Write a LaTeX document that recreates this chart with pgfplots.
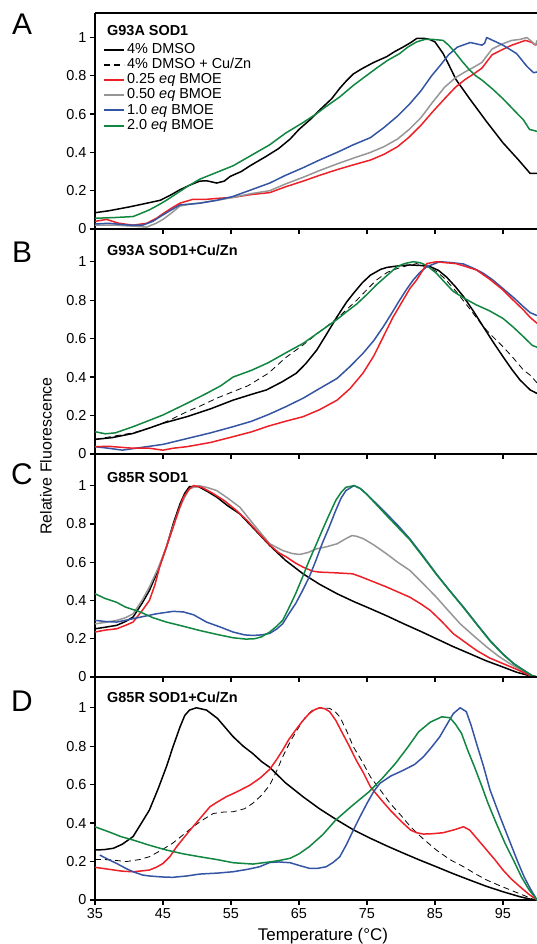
\documentclass[border=0pt]{standalone}
\usepackage{fontspec}
\setmainfont{Liberation Sans}
\usepackage{pgfplots}
\pgfplotsset{compat=1.18}
\definecolor{cred}{RGB}{236,32,39}
\definecolor{cgray}{RGB}{150,150,150}
\definecolor{cblue}{RGB}{52,84,164}
\definecolor{cgreen}{RGB}{16,134,64}
\pgfplotsset{
  panel/.style={
    scale only axis, width=442bp, xmin=35, xmax=100, ymin=0,
    anchor=north west,
    axis x line=box, axis y line=left,
    axis line style={-, line width=1.6bp},
    xtick={35,45,55,65,75,85,95}, ytick={0,0.2,0.4,0.6,0.8,1},
    xtick pos=bottom, ytick pos=left,
    tick align=outside, major tick length=5bp,
    every tick/.style={black, line width=1.3bp},
    tick label style={font=\fontsize{14.5}{15}\selectfont},
    /pgf/number format/assume math mode=true,
    every axis plot/.append style={line width=1.5bp, line join=round},
  },
}
\begin{document}
\begin{tikzpicture}
% ---------------- A ----------------
\begin{axis}[panel, at={(0bp,0bp)}, height=216bp, ymax=1.128, xticklabels={},
  legend cell align=left,
  legend image code/.code={\draw[#1, line width=1.9bp] (0bp,0bp) -- (20bp,0bp);},
  legend style={draw=none, fill=none, inner sep=0pt, at={(axis description cs:0.0181,0.8625)}, anchor=north west,
    font=\fontsize{14.5}{15}\selectfont, row sep=1.7bp, column sep=2bp,
    nodes={inner sep=0pt, text height=10.5bp, text depth=3bp}}]
\addplot[black] coordinates {(35,0.085)(37,0.095)(40,0.115)(42,0.13)(44.6,0.15)(46,0.175)(47.5,0.205)(49,0.23)(50.4,0.25)(51.4,0.252)(52.9,0.24)(54,0.25)(54.9,0.275)(56.5,0.30)(57.8,0.33)(60.2,0.38)(62,0.42)(63.7,0.47)(65,0.52)(66.6,0.57)(68,0.62)(69.8,0.68)(71,0.735)(72,0.775)(73,0.81)(74.4,0.84)(76,0.87)(77.9,0.90)(79,0.925)(80.3,0.95)(81.5,0.975)(82.3,0.995)(83.5,0.995)(84.2,0.99)(85,0.977)(86.2,0.916)(87,0.86)(88.1,0.78)(90.1,0.68)(92.6,0.56)(95,0.45)(97.3,0.36)(99,0.29)(100,0.29)};
\addlegendentry{4\% DMSO}
\addlegendimage{black, dash pattern=on 6bp off 4bp}
\addlegendentry{4\% DMSO + Cu/Zn}
\addplot[cred] coordinates {(35,0.04)(36.7,0.05)(38.5,0.03)(40.6,0.02)(42.6,0.03)(44,0.055)(45,0.08)(46.3,0.11)(47.5,0.135)(49.4,0.155)(51.4,0.155)(53,0.16)(55.3,0.165)(58,0.18)(60.7,0.19)(63,0.22)(65.6,0.25)(68,0.28)(70.6,0.31)(73,0.335)(75.5,0.36)(77.5,0.39)(79.5,0.43)(81.2,0.48)(82.9,0.54)(84.6,0.61)(86.4,0.68)(88,0.74)(89.4,0.78)(90.7,0.81)(91.9,0.84)(93.4,0.91)(94.8,0.935)(96.3,0.96)(97.5,0.975)(98.3,0.985)(99.2,0.975)(99.8,0.96)(100,0.97)};
\addlegendentry{0.25 \textit{eq} BMOE}
\addplot[cgray] coordinates {(35,0.02)(38,0.02)(40.6,0.015)(42.6,0.01)(44,0.03)(45,0.05)(46.3,0.085)(47.5,0.12)(49,0.13)(50.4,0.135)(53,0.15)(55.3,0.165)(58,0.185)(60.7,0.2)(63,0.235)(65.6,0.27)(68,0.305)(70.6,0.34)(73,0.37)(75.5,0.40)(77.5,0.43)(79.5,0.47)(81.2,0.52)(82.9,0.58)(84.6,0.66)(86.4,0.74)(88,0.79)(89.4,0.82)(90.7,0.845)(91.9,0.87)(93.4,0.94)(94.8,0.965)(96.3,0.985)(97.5,0.99)(98.5,1.0)(99.2,0.98)(99.8,0.96)(100,0.985)};
\addlegendentry{0.50 \textit{eq} BMOE}
\addplot[cblue] coordinates {(35,0.026)(37,0.03)(40,0.02)(42,0.02)(43.5,0.04)(44.6,0.065)(46,0.095)(47.5,0.126)(49,0.13)(50.4,0.135)(52.9,0.15)(55.3,0.17)(58,0.205)(60.7,0.24)(63,0.28)(65.6,0.32)(68,0.36)(70.6,0.40)(73,0.44)(75.5,0.477)(77.5,0.53)(79.5,0.59)(81.2,0.65)(82.9,0.72)(84.5,0.80)(85.9,0.86)(87,0.91)(88.3,0.95)(90.2,0.974)(91.9,0.96)(92.3,0.97)(92.6,1.0)(93.5,0.985)(95,0.96)(97,0.916)(98.5,0.85)(99.5,0.816)(100,0.82)};
\addlegendentry{1.0 \textit{eq} BMOE}
\addplot[cgreen] coordinates {(35,0.056)(38,0.06)(40.6,0.065)(42,0.085)(43,0.10)(44.3,0.125)(45.5,0.15)(47,0.185)(48.5,0.22)(50.4,0.26)(52.5,0.29)(55.3,0.33)(58,0.385)(60.7,0.44)(63,0.50)(65.6,0.556)(67.5,0.60)(69,0.64)(71,0.69)(73,0.75)(74.5,0.79)(76.4,0.84)(78,0.88)(79.8,0.916)(81,0.95)(82.3,0.977)(83.5,0.99)(84.7,0.99)(86.2,0.985)(87,0.96)(87.9,0.925)(89,0.875)(90.1,0.83)(91,0.80)(92,0.775)(93.5,0.73)(95,0.68)(96.9,0.61)(98,0.57)(98.9,0.52)(100,0.51)};
\addlegendentry{2.0 \textit{eq} BMOE}
\end{axis}
% ---------------- B ----------------
\begin{axis}[panel, at={(0bp,-216bp)}, height=225bp, ymax=1.17, xticklabels={}]
\addplot[black] coordinates {(35,0.076)(37.5,0.085)(40.6,0.107)(43,0.135)(45,0.16)(48.5,0.194)(52,0.235)(55.3,0.28)(58,0.31)(60.2,0.333)(62.5,0.375)(64.6,0.42)(66,0.47)(67.6,0.54)(69,0.62)(70.6,0.714)(72,0.79)(73,0.835)(74.3,0.89)(75.5,0.93)(77,0.96)(77.9,0.97)(79.5,0.978)(81.3,0.983)(83,0.98)(84.3,0.974)(85.5,0.955)(86.7,0.92)(88,0.87)(89.2,0.818)(90.7,0.74)(92.1,0.662)(93.5,0.585)(95,0.506)(96.3,0.44)(97.5,0.385)(99,0.333)(100,0.315)};
\addplot[black, line width=0.8bp, dash pattern=on 6bp off 4bp] coordinates {(35,0.076)(40.6,0.11)(43,0.135)(44.6,0.155)(46.5,0.185)(48.5,0.22)(50.5,0.25)(52.9,0.29)(55,0.32)(57.5,0.355)(60.5,0.42)(63,0.50)(65.6,0.567)(68,0.635)(70.6,0.705)(73.5,0.80)(75,0.855)(76.4,0.905)(78,0.945)(79.5,0.965)(81,0.98)(82.3,0.99)(83.8,0.975)(85.2,0.95)(86.5,0.91)(88.1,0.845)(90,0.76)(92.1,0.662)(93.5,0.61)(95,0.558)(96.5,0.50)(98,0.437)(99,0.41)(100,0.37)};
\addplot[cgreen] coordinates {(35,0.116)(36.5,0.105)(38,0.11)(40.6,0.142)(43,0.175)(45,0.203)(48.5,0.263)(51.4,0.315)(53.5,0.355)(55.3,0.40)(58,0.435)(60.5,0.475)(63,0.525)(65.6,0.575)(68,0.635)(70.6,0.70)(72,0.74)(73.5,0.78)(75,0.83)(76.4,0.88)(78,0.93)(79.4,0.974)(80.5,0.99)(81.8,1.0)(82.8,0.995)(83.8,0.98)(85.2,0.94)(86.5,0.89)(87.7,0.845)(89.3,0.81)(91.1,0.775)(93,0.745)(95,0.705)(96.5,0.66)(98,0.61)(99.3,0.565)(100,0.555)};
\addplot[cblue] coordinates {(35,0.038)(37,0.03)(39,0.02)(42,0.035)(45,0.05)(48.5,0.08)(52,0.11)(55.3,0.142)(58,0.17)(60.5,0.205)(63,0.245)(65.6,0.29)(68,0.34)(70.6,0.393)(72.5,0.455)(74.4,0.523)(76,0.59)(77.4,0.662)(78.6,0.73)(79.8,0.80)(80.8,0.855)(81.8,0.905)(82.8,0.945)(83.8,0.974)(85.7,1.0)(87.5,0.995)(89.2,0.988)(90.7,0.965)(92.1,0.94)(93.5,0.905)(95,0.86)(96.5,0.815)(98,0.766)(99,0.735)(100,0.72)};
\addplot[cred] coordinates {(35,0.038)(37,0.04)(40.6,0.03)(43,0.03)(45,0.02)(46.5,0.03)(48.5,0.038)(52,0.06)(55.3,0.09)(58,0.115)(60.5,0.145)(63,0.17)(65.6,0.194)(68,0.23)(70.6,0.28)(72.5,0.34)(74.4,0.42)(76,0.51)(77.4,0.61)(78.8,0.71)(80.3,0.80)(81.3,0.86)(82.3,0.905)(83.1,0.95)(83.8,0.99)(85.2,1.0)(86.5,0.995)(88.1,0.99)(89.5,0.975)(91.1,0.957)(93,0.91)(95,0.853)(96.5,0.80)(98,0.749)(99,0.71)(100,0.68)};
\end{axis}
% ---------------- C ----------------
\begin{axis}[panel, at={(0bp,-441bp)}, height=223bp, ymax=1.165, xticklabels={}]
\addplot[black] coordinates {(35,0.252)(36.5,0.26)(38.2,0.27)(39.5,0.29)(40.6,0.313)(42,0.39)(43,0.452)(44.3,0.56)(45.5,0.678)(46.5,0.80)(47.5,0.904)(48.2,0.96)(48.9,0.995)(50.2,0.995)(51.5,0.97)(52.9,0.94)(54.5,0.895)(56.3,0.852)(58.5,0.77)(60.7,0.687)(63,0.61)(65.6,0.539)(68,0.485)(70.6,0.435)(73,0.395)(75.5,0.357)(78,0.318)(80.4,0.278)(82.8,0.24)(85.2,0.2)(87.6,0.16)(90.1,0.122)(92.5,0.085)(95,0.052)(97,0.025)(98.9,0.007)(100,0)};
\addplot[cgray] coordinates {(35,0.278)(36.5,0.285)(38.2,0.296)(39.5,0.31)(40.6,0.33)(42,0.405)(43,0.47)(44.3,0.57)(45.5,0.678)(46.5,0.79)(47.5,0.887)(48.2,0.94)(48.9,0.983)(50.2,1.0)(51.5,0.99)(52.9,0.974)(54.5,0.935)(56.3,0.887)(58.5,0.79)(60.7,0.696)(62.6,0.661)(64,0.645)(65.1,0.64)(66.3,0.65)(67.6,0.67)(69,0.68)(70.6,0.696)(72,0.725)(72.8,0.739)(73.5,0.735)(74.5,0.722)(76,0.69)(77.9,0.643)(79.5,0.60)(81.3,0.557)(83.2,0.49)(85.2,0.417)(87,0.345)(88.7,0.278)(90.7,0.215)(92.6,0.157)(94.3,0.11)(96,0.07)(97.7,0.035)(99.2,0.007)(100,0)};
\addplot[cred] coordinates {(35,0.235)(36.5,0.245)(38.2,0.252)(39.5,0.27)(40.6,0.287)(42,0.35)(43,0.40)(43.8,0.48)(44.5,0.574)(45.5,0.68)(46.5,0.783)(47.3,0.87)(48,0.939)(48.8,0.98)(49.5,1.0)(50.7,0.991)(52.3,0.96)(54,0.922)(55.8,0.87)(57.4,0.817)(59,0.755)(60.7,0.69)(62,0.65)(63.2,0.626)(64.5,0.595)(65.6,0.574)(67,0.553)(68,0.548)(70,0.545)(71.5,0.542)(72.9,0.539)(74,0.525)(75.5,0.504)(77.9,0.47)(79.5,0.445)(81.3,0.417)(83,0.38)(84.3,0.348)(86,0.29)(87.7,0.226)(89.5,0.18)(91.1,0.139)(93,0.10)(95,0.07)(97,0.04)(98.9,0.009)(100,0)};
\addplot[cblue] coordinates {(35,0.296)(36.5,0.29)(38.2,0.287)(40,0.30)(41.7,0.313)(44,0.33)(46.5,0.343)(48,0.34)(49.5,0.325)(51.4,0.287)(53.5,0.26)(55.3,0.235)(57,0.22)(58.2,0.217)(59.5,0.22)(60.7,0.228)(61.7,0.25)(62.6,0.278)(63.5,0.33)(64.5,0.383)(65.5,0.45)(66.5,0.522)(67.5,0.61)(68.4,0.696)(69.4,0.78)(70.4,0.87)(71.2,0.935)(71.9,0.974)(73.1,1.0)(74,0.985)(74.9,0.957)(76.4,0.905)(77.9,0.852)(79.6,0.79)(81.3,0.722)(83.3,0.63)(85.2,0.539)(87.2,0.45)(89.2,0.365)(91.2,0.275)(93.1,0.191)(95,0.12)(96.6,0.07)(98.3,0.03)(99.3,0.007)(100,0)};
\addplot[cgreen] coordinates {(35,0.435)(36.5,0.41)(38.2,0.39)(39.5,0.365)(41.7,0.339)(43.5,0.31)(45.5,0.287)(48,0.265)(50.4,0.243)(53,0.222)(55.3,0.205)(57.2,0.198)(58.5,0.2)(59.5,0.21)(60.7,0.235)(61.7,0.265)(62.6,0.296)(63.5,0.36)(64.5,0.435)(65.5,0.52)(66.5,0.609)(67.5,0.69)(68.4,0.765)(69.4,0.845)(70.4,0.922)(71.2,0.965)(71.9,0.991)(73.1,1.0)(74,0.985)(74.9,0.957)(76.4,0.90)(77.9,0.843)(79.6,0.78)(81.3,0.717)(83.3,0.625)(85.2,0.536)(87.2,0.448)(89.2,0.362)(91.2,0.272)(93.1,0.188)(95,0.118)(96.6,0.068)(98.3,0.028)(99.3,0.007)(100,0)};
\end{axis}
% ---------------- D ----------------
\begin{axis}[panel, at={(0bp,-664bp)}, height=223bp, ymax=1.16]
\addplot[black] coordinates {(35,0.26)(36.3,0.262)(37.7,0.269)(39,0.29)(40.6,0.33)(42,0.41)(43,0.468)(44.3,0.58)(45.5,0.693)(46.5,0.80)(47.5,0.90)(48.2,0.96)(48.9,0.988)(49.9,1.0)(51.4,0.988)(53,0.945)(55.3,0.85)(56.8,0.80)(58.2,0.762)(59.5,0.72)(60.7,0.69)(63,0.61)(65.6,0.537)(68,0.475)(70.6,0.416)(73,0.365)(75.5,0.321)(78,0.28)(80.4,0.243)(82.8,0.207)(85.2,0.173)(87.6,0.138)(90.1,0.104)(92.5,0.072)(95,0.043)(97.5,0.017)(99.2,0.003)(100,0)};
\addplot[black, line width=0.8bp, dash pattern=on 6bp off 4bp] coordinates {(35,0.211)(37,0.21)(39.6,0.20)(41.5,0.21)(43,0.225)(44.8,0.26)(46.4,0.295)(48,0.34)(49.4,0.381)(51,0.42)(52.4,0.45)(54,0.458)(55.3,0.459)(57,0.475)(58.2,0.503)(59.5,0.545)(60.7,0.598)(61.7,0.67)(62.6,0.745)(63.8,0.83)(65,0.90)(66,0.955)(67,0.988)(68.2,1.0)(69.5,0.997)(70.3,0.98)(71,0.953)(72,0.88)(73,0.797)(74.3,0.72)(75.5,0.641)(77,0.57)(78.4,0.503)(80,0.44)(81.4,0.381)(83.2,0.32)(85.2,0.26)(87.2,0.21)(89.2,0.173)(91,0.135)(92.6,0.104)(94.5,0.075)(96.1,0.052)(98,0.025)(99.5,0.003)(100,0)};
\addplot[cred] coordinates {(35,0.17)(37,0.16)(39,0.15)(40.6,0.147)(42,0.152)(43,0.156)(44,0.17)(45,0.19)(46,0.225)(47,0.277)(48.2,0.33)(49.4,0.381)(50.7,0.435)(51.9,0.485)(53,0.51)(54.3,0.537)(56,0.565)(57.8,0.598)(59.3,0.635)(60.7,0.68)(61.7,0.73)(62.6,0.78)(63.5,0.835)(64.5,0.884)(65.5,0.93)(66.5,0.97)(67.3,0.99)(68,1.0)(68.8,0.995)(69.5,0.98)(70.4,0.935)(71.4,0.867)(72.4,0.80)(73.4,0.728)(74.5,0.66)(75.5,0.589)(77,0.525)(78.4,0.468)(80,0.41)(81.4,0.364)(82.3,0.35)(83.3,0.343)(84.7,0.345)(86.2,0.35)(87.8,0.365)(89.2,0.381)(90.1,0.364)(91.4,0.31)(92.6,0.26)(93.8,0.21)(95,0.156)(96.2,0.11)(97.5,0.069)(98.8,0.03)(100,0)};
\addplot[cblue] coordinates {(35.7,0.234)(37,0.21)(38.2,0.19)(39.5,0.165)(40.6,0.147)(42,0.13)(43,0.125)(44.8,0.12)(46.4,0.118)(48.5,0.125)(50.4,0.135)(53,0.14)(55.3,0.147)(57.5,0.16)(59.2,0.173)(60.7,0.195)(62,0.198)(63.7,0.194)(65,0.18)(66.5,0.165)(67.8,0.165)(69,0.173)(70,0.195)(71,0.225)(72,0.29)(73,0.364)(74,0.435)(75,0.503)(76,0.565)(76.9,0.607)(78.5,0.645)(80.4,0.676)(82,0.705)(83.3,0.745)(84.5,0.795)(85.7,0.849)(86.7,0.91)(87.7,0.97)(88.7,1.0)(89.6,0.98)(90.3,0.91)(91.1,0.815)(92.1,0.70)(93.1,0.572)(94.6,0.43)(96.1,0.295)(97.1,0.205)(98.1,0.121)(99,0.06)(100,0)};
\addplot[cgreen] coordinates {(35,0.381)(37,0.355)(38.8,0.33)(40.6,0.312)(43,0.285)(45.5,0.26)(48,0.24)(50.4,0.225)(53,0.21)(55.3,0.194)(58.2,0.187)(60.7,0.198)(62,0.205)(63.7,0.217)(65,0.24)(66.5,0.277)(68.5,0.34)(70.4,0.416)(72.8,0.49)(75.3,0.563)(77.3,0.635)(79.2,0.711)(81,0.795)(82.6,0.875)(84.3,0.925)(86,0.953)(87.2,0.948)(88,0.915)(88.9,0.867)(89.8,0.78)(90.8,0.693)(91.8,0.6)(92.8,0.503)(94,0.40)(95.3,0.295)(96.5,0.21)(97.7,0.121)(98.8,0.055)(100,0)};
\end{axis}
% ---------------- texts ----------------
\begin{scope}[every node/.style={inner sep=0pt}]
\node[font=\fontsize{30}{30}\selectfont] at (-73bp,-11bp) {A};
\node[font=\fontsize{30}{30}\selectfont] at (-73bp,-239bp) {B};
\node[font=\fontsize{30}{30}\selectfont] at (-73bp,-461bp) {C};
\node[font=\fontsize{30}{30}\selectfont] at (-73bp,-688bp) {D};
\node[anchor=base west, font=\fontsize{14.5}{15}\selectfont\bfseries] at (12bp,-22bp) {G93A SOD1};
\node[anchor=base west, font=\fontsize{14.5}{15}\selectfont\bfseries] at (12bp,-242bp) {G93A SOD1+Cu/Zn};
\node[anchor=base west, font=\fontsize{14.5}{15}\selectfont\bfseries] at (12bp,-469bp) {G85R SOD1};
\node[anchor=base west, font=\fontsize{14.5}{15}\selectfont\bfseries] at (12bp,-689bp) {G85R SOD1+Cu/Zn};
\node[rotate=90, font=\fontsize{16}{16}\selectfont] at (-49bp,-443bp) {Relative Fluorescence};
\node[font=\fontsize{17}{17}\selectfont] at (228bp,-923bp) {Temperature (°C)};
\end{scope}
\pgfresetboundingbox
\path[use as bounding box] (-95bp,13bp) rectangle (442bp,-931bp);
\end{tikzpicture}
\end{document}
